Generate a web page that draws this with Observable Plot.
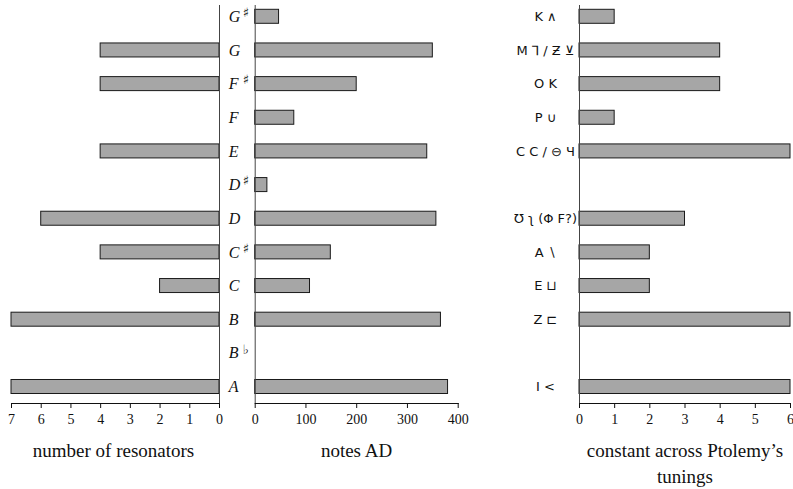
<!DOCTYPE html>
<html><head><meta charset="utf-8">
<script src="https://cdn.jsdelivr.net/npm/d3@7"></script>
<script src="https://cdn.jsdelivr.net/npm/@observablehq/plot@0.6"></script>
<style>
body{margin:0;background:#fff;}
#wrap{position:relative;width:793px;height:489px;overflow:hidden;font-family:"Liberation Serif",serif;background:#fff;}
.panel{position:absolute;top:0;}
.panel svg{overflow:visible;}
.title{position:absolute;font-size:19px;text-align:center;color:#111;line-height:26px;width:300px;white-space:pre;}
</style></head><body><div id="wrap"></div>
<script>
// ---- data ----
const noteIds      = ["G#","G","F#","F","E","D#","D","C#","C","B","Bb","A"];
const noteLetters  = ["G","G","F","F","E","D","D","C","C","B","B","A"];
const accidentals  = ["♯","","♯","","","♯","","♯","","","♭",""];
const resonators   = [0,4,4,0,4,0,6,4,2,7,0,7];
const notesAD      = [47,350,200,77,339,24,357,149,108,366,null,380];
const ptolemy      = [1,4,4,1,6,null,3,2,2,6,null,6];
const greekLabels  = ["Κ ∧","Μ ⅂ / Ƶ ⊻","Ο Κ","Ρ ∪","Ϲ Ϲ / ⊖ Ч","","Ʊ ʅ (Φ F?)","Α ∖","Ε ⊔","Ζ ⊏","","Ι <"];
const ticksResonators = [0,1,2,3,4,5,6,7];
const ticksNotes      = [0,100,200,300,400];
const ticksPtolemy    = [0,1,2,3,4,5,6];
const titles = ["number of resonators","notes AD","constant across Ptolemy’s\ntunings"];

// ---- shared settings ----
const H = 440, MT = 5, MB = 37;
const yScale = {type:"band", domain: noteIds, range:[9.3, 393.5], paddingInner:0.584, paddingOuter:0, round:false, axis:null};
const barStyle = {fill:"#a6a6a6", stroke:"#1a1a1a", strokeWidth:1};
const svgStyle = {fontFamily:"Liberation Serif, serif", fontSize:"14px", color:"#111", background:"transparent", overflow:"visible"};
const rows = noteIds.map((id,i)=>({id, letter:noteLetters[i], acc:accidentals[i], res:resonators[i], ad:notesAD[i], pt:ptolemy[i], greek:greekLabels[i]}));

function axisMarks(ticks){
  return [
    Plot.frame({anchor:"bottom", stroke:"#111"}),
    Plot.axisX({ticks, tickSize:5, tickFormat:()=>"", label:null, stroke:"#111"}),
    Plot.text(ticks, {x:d=>d, text:d=>String(d), frameAnchor:"bottom", dy:20, fontSize:14, fontFamily:"Liberation Serif, serif", fill:"#111"}),
    Plot.ruleX([0], {stroke:"#444", strokeWidth:1})
  ];
}

const wrap = document.getElementById("wrap");
function place(svg, left){
  const d = document.createElement("div");
  d.className = "panel"; d.style.left = left + "px";
  d.appendChild(svg); wrap.appendChild(d);
}

// panel 1: number of resonators (reversed)
place(Plot.plot({
  width:220, height:H, marginLeft:11, marginRight:1, marginTop:MT, marginBottom:MB,
  style:svgStyle,
  x:{domain:[0,7], reverse:true},
  y:yScale,
  marks:[
    Plot.barX(rows.filter(d=>d.res), {x:"res", y:"id", ...barStyle}),
    ...axisMarks(ticksResonators)
  ]
}), 0);

// panel 2: notes AD with note labels
place(Plot.plot({
  width:250, height:H, marginLeft:34.7, marginRight:12.3, marginTop:MT, marginBottom:MB,
  style:svgStyle,
  x:{domain:[0,400]},
  y:yScale,
  marks:[
    Plot.barX(rows.filter(d=>d.ad), {x:"ad", y:"id", ...barStyle}),
    ...axisMarks(ticksNotes),
    Plot.text(rows, {y:"id", text:"letter", frameAnchor:"left", textAnchor:"start", dx:-26.5, fontStyle:"italic", fontSize:16, fill:"#111"}),
    Plot.text(rows.filter(d=>d.acc), {y:"id", text:"acc", frameAnchor:"left", textAnchor:"start", dx:-12.5, dy:-4, fontSize:13, fontFamily:"DejaVu Sans", fill:"#111"})
  ]
}), 220);

// panel 3: constant across Ptolemy's tunings
place(Plot.plot({
  width:313, height:H, marginLeft:99, marginRight:3, marginTop:MT, marginBottom:MB,
  style:svgStyle,
  x:{domain:[0,6]},
  y:yScale,
  marks:[
    Plot.barX(rows.filter(d=>d.pt), {x:"pt", y:"id", ...barStyle}),
    ...axisMarks(ticksPtolemy),
    Plot.text(rows.filter(d=>d.greek), {y:"id", text:"greek", frameAnchor:"left", textAnchor:"middle", dx:-34, fontFamily:"DejaVu Sans", fontSize:13, fill:"#111"})
  ]
}), 480);

// axis titles
const centers = [113.5, 356.5, 685];
titles.forEach((t,i)=>{
  const d = document.createElement("div");
  d.className = "title";
  d.textContent = t;
  d.style.left = (centers[i]-150) + "px";
  d.style.top = "438px";
  wrap.appendChild(d);
});
</script></body></html>
